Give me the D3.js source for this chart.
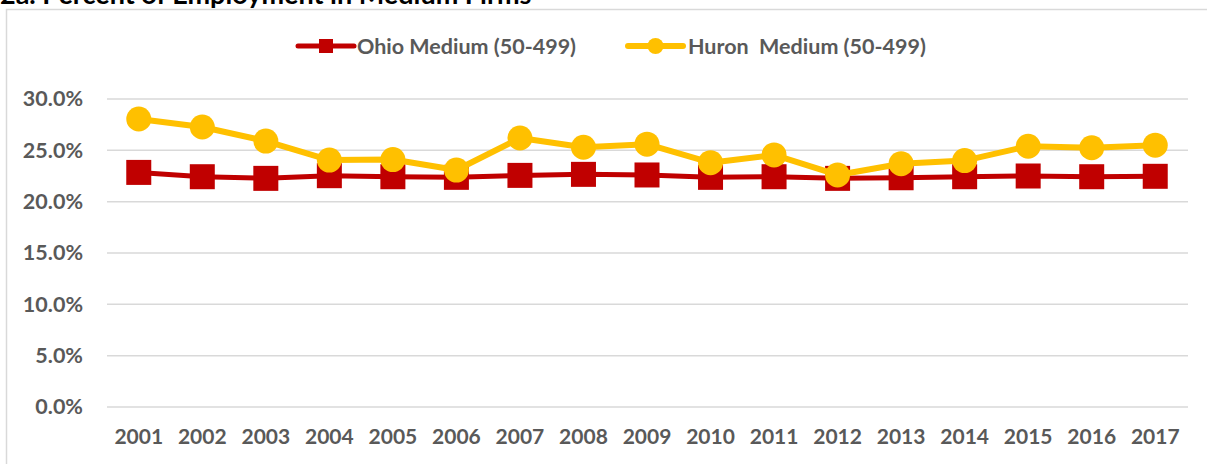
<!DOCTYPE html>
<html>
<head>
<meta charset="utf-8">
<script src="https://d3js.org/d3.v7.min.js"></script>
<style>
  body { margin: 0; background: #fff; }
  text { font-family: Lato, "Open Sans", sans-serif; }
</style>
</head>
<body>
<script>
const width = 1207;
const height = 464;

const years = ['2001','2002','2003','2004','2005','2006','2007','2008','2009',
  '2010','2011','2012','2013','2014','2015','2016','2017'];
const ohio = [22.85, 22.43, 22.27, 22.53, 22.43, 22.37, 22.56, 22.66, 22.6,
  22.37, 22.43, 22.27, 22.33, 22.43, 22.5, 22.43, 22.47];
const huron = [28.05, 27.27, 25.9, 24.05, 24.1, 23.08, 26.2, 25.3, 25.6,
  23.8, 24.55, 22.6, 23.7, 24.0, 25.4, 25.25, 25.5];
const yTicks = [0, 5, 10, 15, 20, 25, 30];

const svg = d3.select('body')
  .append('svg')
  .attr('width', width)
  .attr('height', height);

// title, mostly cut off at the top
svg.append('text')
  .attr('x', 0)
  .attr('y', 4)
  .attr('font-size', 27)
  .attr('font-weight', 'bold')
  .attr('fill', '#000')
  .text('2a. Percent of Employment in Medium Firms');

// chart frame
svg.append('rect')
  .attr('x', 6.5).attr('y', 9.5)
  .attr('width', 1300).attr('height', 600)
  .attr('fill', '#fff')
  .attr('stroke', '#d9d9d9')
  .attr('stroke-width', 1.5);

const x = d3.scaleBand()
  .domain(years)
  .range([107, 1187]);

const y = d3.scaleLinear()
  .domain([0, 30])
  .range([407, 99]);

// grid
svg.append('g')
  .selectAll('line')
  .data(yTicks)
  .enter()
  .append('line')
  .attr('x1', 107).attr('x2', 1188)
  .attr('y1', d => y(d)).attr('y2', d => y(d))
  .attr('stroke', '#d9d9d9')
  .attr('stroke-width', 1.5);

// y axis labels
const yAxis = d3.axisLeft(y)
  .tickValues(yTicks)
  .tickFormat(d => d.toFixed(1) + '%')
  .tickSize(0)
  .tickPadding(0);
svg.append('g')
  .attr('transform', 'translate(83,0)')
  .call(yAxis)
  .call(g => g.select('.domain').remove())
  .selectAll('text')
  .attr('font-size', 21.5)
  .attr('font-weight', 'bold')
  .attr('fill', '#595959')
  .attr('font-family', 'Lato');

// x axis labels
const xAxis = d3.axisBottom(x).tickSize(0).tickPadding(0);
svg.append('g')
  .attr('transform', 'translate(0,429)')
  .call(xAxis)
  .call(g => g.select('.domain').remove())
  .selectAll('text')
  .attr('font-size', 21)
  .attr('font-weight', 'bold')
  .attr('fill', '#595959')
  .attr('font-family', 'Lato');

const cx = d => x(d) + x.bandwidth() / 2;

const line = d3.line()
  .x(d => cx(d.year))
  .y(d => y(d.v));

const ohioPts = years.map((yr, i) => ({ year: yr, v: ohio[i] }));
const huronPts = years.map((yr, i) => ({ year: yr, v: huron[i] }));

// Ohio series
svg.append('path')
  .attr('d', line(ohioPts))
  .attr('fill', 'none')
  .attr('stroke', '#c00000')
  .attr('stroke-width', 5)
  .attr('stroke-linejoin', 'round');
svg.append('g')
  .selectAll('rect')
  .data(ohioPts)
  .enter()
  .append('rect')
  .attr('x', d => cx(d.year) - 12.5)
  .attr('y', d => y(d.v) - 12.5)
  .attr('width', 25).attr('height', 25)
  .attr('fill', '#c00000');

// Huron series
svg.append('path')
  .attr('d', line(huronPts))
  .attr('fill', 'none')
  .attr('stroke', '#ffc000')
  .attr('stroke-width', 6)
  .attr('stroke-linejoin', 'round');
svg.append('g')
  .selectAll('circle')
  .data(huronPts)
  .enter()
  .append('circle')
  .attr('cx', d => cx(d.year))
  .attr('cy', d => y(d.v))
  .attr('r', 12.5)
  .attr('fill', '#ffc000');

// legend
const legend = svg.append('g');
const lg1 = legend.append('g').attr('transform', 'translate(298,46)');
lg1.append('line').attr('x1', 0).attr('x2', 56)
  .attr('stroke', '#c00000').attr('stroke-width', 5).attr('stroke-linecap', 'round');
lg1.append('rect').attr('x', 21).attr('y', -7).attr('width', 14).attr('height', 14)
  .attr('fill', '#c00000');
lg1.append('text').attr('x', 59).attr('dy', '0.35em')
  .attr('font-size', 21.5).attr('font-weight', 'bold').attr('fill', '#595959')
  .text('Ohio Medium (50-499)');

const lg2 = legend.append('g').attr('transform', 'translate(628,46)');
lg2.append('line').attr('x1', 0).attr('x2', 55)
  .attr('stroke', '#ffc000').attr('stroke-width', 6).attr('stroke-linecap', 'round');
lg2.append('circle').attr('cx', 27.5).attr('r', 8).attr('fill', '#ffc000');
lg2.append('text').attr('x', 60).attr('dy', '0.35em')
  .attr('font-size', 21.5).attr('font-weight', 'bold').attr('fill', '#595959')
  .text('Huron\u00A0 Medium (50-499)');
</script>
</body>
</html>
